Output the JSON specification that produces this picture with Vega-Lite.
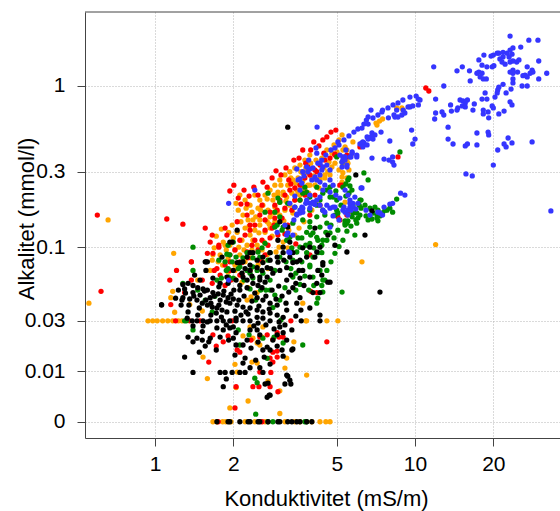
{
"$schema": "https://vega.github.io/schema/vega-lite/v6.json",
"width": 475, "height": 426,
"autosize": {"type": "none"},
"padding": {"left": 85, "top": 12, "right": 0, "bottom": 73},
"background": "white",
"config": {"view": {"stroke": null}, "font": "Liberation Sans"},
"layer": [
{
"data": {"values": [
{"kond":0.66,"alk":0.150,"g":"orange"},{"kond":0.557,"alk":0.041,"g":"orange"},{"kond":0.94,"alk":0.03,"g":"orange"},{"kond":1.18,"alk":0.091,"g":"orange"},{"kond":1.17,"alk":0.050,"g":"orange"},{"kond":1.15,"alk":0.045,"g":"orange"},{"kond":1.19,"alk":0.035,"g":"orange"},{"kond":1.36,"alk":0.040,"g":"orange"},{"kond":1.46,"alk":0.060,"g":"orange"},{"kond":12.0,"alk":0.104,"g":"orange"},{"kond":6.25,"alk":0.080,"g":"orange"},{"kond":3.83,"alk":0.03,"g":"orange"},{"kond":4.58,"alk":0.03,"g":"orange"},{"kond":5.05,"alk":0.03,"g":"orange"},{"kond":8.5,"alk":0.735,"g":"orange"},{"kond":8.9,"alk":0.735,"g":"orange"},{"kond":9.0,"alk":0.714,"g":"orange"},{"kond":7.5,"alk":0.63,"g":"orange"},{"kond":7.3,"alk":0.612,"g":"orange"},{"kond":7.08,"alk":0.595,"g":"orange"},{"kond":7.14,"alk":0.579,"g":"orange"},{"kond":5.77,"alk":0.457,"g":"orange"},{"kond":5.38,"alk":0.426,"g":"orange"},{"kond":5.28,"alk":0.408,"g":"orange"},{"kond":5.47,"alk":0.354,"g":"orange"},{"kond":5.52,"alk":0.339,"g":"orange"},{"kond":5.57,"alk":0.308,"g":"orange"},{"kond":5.28,"alk":0.296,"g":"orange"},{"kond":5.47,"alk":0.275,"g":"orange"},{"kond":5.24,"alk":0.259,"g":"orange"},{"kond":5.38,"alk":0.194,"g":"orange"},{"kond":5.47,"alk":0.408,"g":"orange"},{"kond":5.67,"alk":0.380,"g":"orange"},{"kond":5.28,"alk":0.339,"g":"orange"},{"kond":5.1,"alk":0.308,"g":"orange"},{"kond":5.24,"alk":0.279,"g":"orange"},{"kond":4.92,"alk":0.339,"g":"orange"},{"kond":4.79,"alk":0.321,"g":"orange"},{"kond":4.62,"alk":0.300,"g":"orange"},{"kond":4.50,"alk":0.287,"g":"orange"},{"kond":4.31,"alk":0.275,"g":"orange"},{"kond":4.19,"alk":0.267,"g":"orange"},{"kond":4.01,"alk":0.279,"g":"orange"},{"kond":3.83,"alk":0.296,"g":"orange"},{"kond":3.70,"alk":0.296,"g":"orange"},{"kond":3.87,"alk":0.248,"g":"orange"},{"kond":3.70,"alk":0.241,"g":"orange"},{"kond":3.51,"alk":0.231,"g":"orange"},{"kond":3.36,"alk":0.221,"g":"orange"},{"kond":3.21,"alk":0.209,"g":"orange"},{"kond":3.11,"alk":0.215,"g":"orange"},{"kond":3.02,"alk":0.194,"g":"orange"},{"kond":2.89,"alk":0.181,"g":"orange"},{"kond":2.84,"alk":0.166,"g":"orange"},{"kond":2.77,"alk":0.157,"g":"orange"},{"kond":2.70,"alk":0.146,"g":"orange"},{"kond":2.53,"alk":0.150,"g":"orange"},{"kond":2.38,"alk":0.150,"g":"orange"},{"kond":3.11,"alk":0.224,"g":"orange"},{"kond":2.97,"alk":0.224,"g":"orange"},
{"kond":2.12,"alk":0.215,"g":"orange"},{"kond":2.22,"alk":0.200,"g":"orange"},{"kond":2.32,"alk":0.186,"g":"orange"},{"kond":2.42,"alk":0.215,"g":"orange"},{"kond":2.53,"alk":0.200,"g":"orange"},{"kond":2.65,"alk":0.215,"g":"orange"},{"kond":2.77,"alk":0.231,"g":"orange"},{"kond":2.89,"alk":0.248,"g":"orange"},{"kond":3.02,"alk":0.267,"g":"orange"},{"kond":3.16,"alk":0.287,"g":"orange"},{"kond":3.30,"alk":0.300,"g":"orange"},{"kond":3.45,"alk":0.317,"g":"orange"},{"kond":3.61,"alk":0.330,"g":"orange"},{"kond":3.77,"alk":0.354,"g":"orange"},{"kond":3.94,"alk":0.380,"g":"orange"},{"kond":2.09,"alk":0.173,"g":"orange"},{"kond":2.18,"alk":0.161,"g":"orange"},{"kond":2.28,"alk":0.150,"g":"orange"},{"kond":2.36,"alk":0.168,"g":"orange"},{"kond":2.49,"alk":0.178,"g":"orange"},{"kond":2.60,"alk":0.186,"g":"orange"},{"kond":2.72,"alk":0.173,"g":"orange"},{"kond":2.84,"alk":0.200,"g":"orange"},{"kond":2.97,"alk":0.215,"g":"orange"},{"kond":3.24,"alk":0.248,"g":"orange"},{"kond":3.39,"alk":0.267,"g":"orange"},{"kond":3.55,"alk":0.275,"g":"orange"},{"kond":2.22,"alk":0.133,"g":"orange"},{"kond":2.32,"alk":0.120,"g":"orange"},{"kond":2.42,"alk":0.129,"g":"orange"},{"kond":2.53,"alk":0.139,"g":"orange"},{"kond":2.65,"alk":0.125,"g":"orange"},{"kond":2.77,"alk":0.133,"g":"orange"},{"kond":2.89,"alk":0.146,"g":"orange"},{"kond":3.02,"alk":0.161,"g":"orange"},{"kond":3.16,"alk":0.173,"g":"orange"},{"kond":3.30,"alk":0.186,"g":"orange"},{"kond":3.45,"alk":0.200,"g":"orange"},{"kond":3.61,"alk":0.215,"g":"orange"},{"kond":3.77,"alk":0.231,"g":"orange"},{"kond":3.94,"alk":0.248,"g":"orange"},{"kond":4.12,"alk":0.248,"g":"orange"},{"kond":4.31,"alk":0.267,"g":"orange"},{"kond":4.50,"alk":0.275,"g":"orange"},{"kond":4.71,"alk":0.287,"g":"orange"},{"kond":1.98,"alk":0.139,"g":"orange"},{"kond":2.07,"alk":0.125,"g":"orange"},{"kond":2.16,"alk":0.111,"g":"orange"},{"kond":2.26,"alk":0.103,"g":"orange"},{"kond":2.36,"alk":0.096,"g":"orange"},{"kond":2.47,"alk":0.103,"g":"orange"},{"kond":2.58,"alk":0.096,"g":"orange"},{"kond":2.70,"alk":0.089,"g":"orange"},{"kond":1.94,"alk":0.103,"g":"orange"},{"kond":2.03,"alk":0.096,"g":"orange"},{"kond":2.12,"alk":0.089,"g":"orange"},{"kond":2.22,"alk":0.080,"g":"orange"},{"kond":1.86,"alk":0.103,"g":"orange"},{"kond":1.91,"alk":0.084,"g":"orange"},{"kond":2.03,"alk":0.076,"g":"orange"},{"kond":1.78,"alk":0.089,"g":"orange"},{"kond":1.82,"alk":0.076,"g":"orange"},{"kond":1.91,"alk":0.068,"g":"orange"},{"kond":2.03,"alk":0.061,"g":"orange"},{"kond":2.16,"alk":0.058,"g":"orange"},{"kond":2.28,"alk":0.053,"g":"orange"},
{"kond":2.05,"alk":0.191,"g":"orange"},{"kond":2.14,"alk":0.146,"g":"orange"},{"kond":2.24,"alk":0.178,"g":"orange"},{"kond":2.30,"alk":0.137,"g":"orange"},{"kond":2.38,"alk":0.111,"g":"orange"},{"kond":2.44,"alk":0.157,"g":"orange"},{"kond":2.51,"alk":0.124,"g":"orange"},{"kond":2.55,"alk":0.173,"g":"orange"},{"kond":2.63,"alk":0.108,"g":"orange"},{"kond":2.70,"alk":0.203,"g":"orange"},{"kond":2.75,"alk":0.141,"g":"orange"},{"kond":2.82,"alk":0.118,"g":"orange"},{"kond":2.87,"alk":0.215,"g":"orange"},{"kond":2.95,"alk":0.168,"g":"orange"},{"kond":3.0,"alk":0.100,"g":"orange"},{"kond":3.05,"alk":0.248,"g":"orange"},{"kond":3.13,"alk":0.148,"g":"orange"},{"kond":3.19,"alk":0.197,"g":"orange"},{"kond":3.27,"alk":0.129,"g":"orange"},{"kond":3.33,"alk":0.275,"g":"orange"},{"kond":3.39,"alk":0.166,"g":"orange"},{"kond":3.48,"alk":0.255,"g":"orange"},{"kond":3.55,"alk":0.221,"g":"orange"},{"kond":3.64,"alk":0.300,"g":"orange"},{"kond":3.70,"alk":0.263,"g":"orange"},{"kond":3.80,"alk":0.317,"g":"orange"},{"kond":3.90,"alk":0.221,"g":"orange"},{"kond":3.97,"alk":0.339,"g":"orange"},{"kond":4.08,"alk":0.283,"g":"orange"},{"kond":4.16,"alk":0.354,"g":"orange"},{"kond":4.27,"alk":0.238,"g":"orange"},{"kond":4.38,"alk":0.364,"g":"orange"},{"kond":4.46,"alk":0.317,"g":"orange"},{"kond":4.58,"alk":0.408,"g":"orange"},{"kond":4.67,"alk":0.344,"g":"orange"},{"kond":4.79,"alk":0.39,"g":"orange"},{"kond":4.88,"alk":0.438,"g":"orange"},{"kond":5.01,"alk":0.397,"g":"orange"},{"kond":5.10,"alk":0.470,"g":"orange"},{"kond":5.24,"alk":0.504,"g":"orange"},{"kond":2.20,"alk":0.096,"g":"orange"},{"kond":2.34,"alk":0.085,"g":"orange"},{"kond":2.10,"alk":0.100,"g":"orange"},{"kond":2.0,"alk":0.115,"g":"orange"},{"kond":1.92,"alk":0.125,"g":"orange"},{"kond":1.88,"alk":0.096,"g":"orange"},{"kond":1.83,"alk":0.108,"g":"orange"},{"kond":1.75,"alk":0.080,"g":"orange"},{"kond":1.69,"alk":0.099,"g":"orange"},{"kond":1.72,"alk":0.118,"g":"orange"},{"kond":1.80,"alk":0.131,"g":"orange"},{"kond":2.49,"alk":0.076,"g":"orange"},{"kond":2.60,"alk":0.080,"g":"orange"},{"kond":2.72,"alk":0.072,"g":"orange"},{"kond":2.92,"alk":0.093,"g":"orange"},{"kond":3.11,"alk":0.108,"g":"orange"},{"kond":3.24,"alk":0.099,"g":"orange"},{"kond":3.45,"alk":0.120,"g":"orange"},{"kond":3.58,"alk":0.133,"g":"orange"},{"kond":3.74,"alk":0.146,"g":"orange"},{"kond":4.01,"alk":0.173,"g":"orange"},{"kond":4.16,"alk":0.191,"g":"orange"},
{"kond":0.98,"alk":0.03,"g":"orange"},{"kond":1.02,"alk":0.03,"g":"orange"},{"kond":1.07,"alk":0.03,"g":"orange"},{"kond":1.12,"alk":0.03,"g":"orange"},{"kond":1.17,"alk":0.03,"g":"orange"},{"kond":1.23,"alk":0.03,"g":"orange"},{"kond":1.27,"alk":0.03,"g":"orange"},{"kond":3.8,"alk":0.03,"g":"orange"},
{"kond":1.53,"alk":0.0143,"g":"orange"},{"kond":1.59,"alk":0.0081,"g":"orange"},{"kond":1.94,"alk":0.0021,"g":"orange"},{"kond":2.03,"alk":0.012,"g":"orange"},{"kond":2.07,"alk":0.0098,"g":"orange"},{"kond":2.05,"alk":0.006,"g":"orange"},{"kond":2.28,"alk":0.0033,"g":"orange"},{"kond":2.36,"alk":0.0127,"g":"orange"},{"kond":2.47,"alk":0.0124,"g":"orange"},{"kond":2.53,"alk":0.0187,"g":"orange"},{"kond":2.47,"alk":0.0195,"g":"orange"},{"kond":2.38,"alk":0.0215,"g":"orange"},{"kond":2.58,"alk":0.022,"g":"orange"},{"kond":2.72,"alk":0.0075,"g":"orange"},{"kond":3.02,"alk":0.0053,"g":"orange"},{"kond":3.02,"alk":0.0012,"g":"orange"},{"kond":3.16,"alk":0.0109,"g":"orange"},{"kond":3.83,"alk":0.009,"g":"orange"},{"kond":3.42,"alk":0.020,"g":"orange"},{"kond":3.21,"alk":0.014,"g":"orange"},{"kond":2.18,"alk":0.0225,"g":"orange"},{"kond":2.32,"alk":0.0268,"g":"orange"},{"kond":2.60,"alk":0.0268,"g":"orange"},{"kond":1.52,"alk":0.0358,"g":"orange"},{"kond":1.63,"alk":0.070,"g":"orange"},{"kond":1.66,"alk":0.082,"g":"orange"},{"kond":1.67,"alk":0.089,"g":"orange"},{"kond":2.03,"alk":0.070,"g":"orange"},{"kond":2.34,"alk":0.0455,"g":"orange"},{"kond":2.47,"alk":0.049,"g":"orange"},{"kond":2.26,"alk":0.0432,"g":"orange"},{"kond":3.70,"alk":0.041,"g":"orange"},
{"kond":1.67,"alk":0,"g":"orange"},{"kond":1.73,"alk":0,"g":"orange"},{"kond":1.82,"alk":0,"g":"orange"},{"kond":1.87,"alk":0,"g":"orange"},{"kond":1.96,"alk":0,"g":"orange"},{"kond":2.22,"alk":0,"g":"orange"},{"kond":2.42,"alk":0,"g":"orange"},{"kond":2.65,"alk":0,"g":"orange"},{"kond":3.16,"alk":0,"g":"orange"},{"kond":3.45,"alk":0,"g":"orange"},{"kond":3.61,"alk":0,"g":"orange"},{"kond":4.01,"alk":0,"g":"orange"},{"kond":4.31,"alk":0,"g":"orange"},{"kond":4.54,"alk":0,"g":"orange"},{"kond":4.71,"alk":0,"g":"orange"},
{"kond":0.60,"alk":0.161,"g":"red"},{"kond":0.62,"alk":0.050,"g":"red"},{"kond":1.11,"alk":0.152,"g":"red"},{"kond":1.28,"alk":0.141,"g":"red"},{"kond":1.38,"alk":0.080,"g":"red"},{"kond":1.21,"alk":0.070,"g":"red"},{"kond":1.14,"alk":0.060,"g":"red"},{"kond":1.38,"alk":0.060,"g":"red"},{"kond":1.15,"alk":0.040,"g":"red"},{"kond":1.30,"alk":0.049,"g":"red"},{"kond":11.0,"alk":0.97,"g":"red"},{"kond":11.3,"alk":0.93,"g":"red"},{"kond":6.14,"alk":0.426,"g":"red"},{"kond":8.6,"alk":0.37,"g":"red"},{"kond":5.47,"alk":0.38,"g":"red"},{"kond":5.42,"alk":0.37,"g":"red"},{"kond":5.24,"alk":0.248,"g":"red"},{"kond":5.47,"alk":0.161,"g":"red"},{"kond":5.14,"alk":0.150,"g":"red"},{"kond":1.94,"alk":0.228,"g":"red"},{"kond":2.14,"alk":0.189,"g":"red"},{"kond":2.26,"alk":0.189,"g":"red"},{"kond":4.46,"alk":0.39,"g":"red"},{"kond":4.92,"alk":0.385,"g":"red"},{"kond":3.33,"alk":0.252,"g":"red"},{"kond":5.05,"alk":0.157,"g":"red"},{"kond":5.52,"alk":0.164,"g":"red"},{"kond":4.19,"alk":0.300,"g":"red"},{"kond":3.87,"alk":0.321,"g":"red"},{"kond":5.14,"alk":0.248,"g":"red"},{"kond":2.95,"alk":0.173,"g":"red"},{"kond":2.32,"alk":0.139,"g":"red"},{"kond":1.89,"alk":0.120,"g":"red"},{"kond":1.63,"alk":0.108,"g":"red"},{"kond":1.76,"alk":0.100,"g":"red"},{"kond":1.38,"alk":0.080,"g":"red"},{"kond":1.59,"alk":0.091,"g":"red"},{"kond":1.67,"alk":0.091,"g":"red"},
{"kond":2.53,"alk":0.161,"g":"red"},{"kond":2.65,"alk":0.150,"g":"red"},{"kond":2.77,"alk":0.168,"g":"red"},{"kond":2.89,"alk":0.186,"g":"red"},{"kond":3.02,"alk":0.200,"g":"red"},{"kond":3.16,"alk":0.215,"g":"red"},{"kond":3.30,"alk":0.231,"g":"red"},{"kond":3.45,"alk":0.238,"g":"red"},{"kond":3.61,"alk":0.248,"g":"red"},{"kond":3.77,"alk":0.275,"g":"red"},{"kond":3.94,"alk":0.287,"g":"red"},{"kond":4.12,"alk":0.308,"g":"red"},{"kond":4.31,"alk":0.330,"g":"red"},{"kond":4.50,"alk":0.354,"g":"red"},{"kond":4.71,"alk":0.364,"g":"red"},{"kond":4.92,"alk":0.380,"g":"red"},{"kond":2.42,"alk":0.139,"g":"red"},{"kond":2.32,"alk":0.129,"g":"red"},{"kond":2.22,"alk":0.120,"g":"red"},{"kond":2.12,"alk":0.111,"g":"red"},{"kond":2.58,"alk":0.111,"g":"red"},{"kond":2.82,"alk":0.133,"g":"red"},{"kond":3.08,"alk":0.154,"g":"red"},{"kond":3.36,"alk":0.173,"g":"red"},{"kond":3.61,"alk":0.200,"g":"red"},{"kond":3.24,"alk":0.139,"g":"red"},{"kond":2.97,"alk":0.120,"g":"red"},{"kond":2.72,"alk":0.103,"g":"red"},{"kond":2.49,"alk":0.096,"g":"red"},{"kond":2.28,"alk":0.085,"g":"red"},{"kond":2.12,"alk":0.080,"g":"red"},{"kond":2.03,"alk":0.096,"g":"red"},{"kond":1.94,"alk":0.089,"g":"red"},{"kond":3.94,"alk":0.161,"g":"red"},{"kond":4.31,"alk":0.186,"g":"red"},{"kond":4.12,"alk":0.215,"g":"red"},{"kond":3.77,"alk":0.215,"g":"red"},{"kond":3.45,"alk":0.200,"g":"red"},{"kond":3.16,"alk":0.178,"g":"red"},{"kond":2.89,"alk":0.154,"g":"red"},{"kond":2.65,"alk":0.129,"g":"red"},{"kond":2.42,"alk":0.111,"g":"red"},{"kond":2.77,"alk":0.115,"g":"red"},{"kond":2.53,"alk":0.082,"g":"red"},{"kond":2.32,"alk":0.070,"g":"red"},{"kond":2.12,"alk":0.065,"g":"red"},{"kond":1.94,"alk":0.070,"g":"red"},{"kond":1.86,"alk":0.076,"g":"red"},{"kond":1.78,"alk":0.065,"g":"red"},
{"kond":2.01,"alk":0.248,"g":"red"},{"kond":2.09,"alk":0.206,"g":"red"},{"kond":2.20,"alk":0.231,"g":"red"},{"kond":2.30,"alk":0.212,"g":"red"},{"kond":2.40,"alk":0.241,"g":"red"},{"kond":2.49,"alk":0.215,"g":"red"},{"kond":2.60,"alk":0.259,"g":"red"},{"kond":2.70,"alk":0.241,"g":"red"},{"kond":2.82,"alk":0.275,"g":"red"},{"kond":2.92,"alk":0.304,"g":"red"},{"kond":3.05,"alk":0.287,"g":"red"},{"kond":3.19,"alk":0.317,"g":"red"},{"kond":3.27,"alk":0.267,"g":"red"},{"kond":3.42,"alk":0.354,"g":"red"},{"kond":3.58,"alk":0.364,"g":"red"},{"kond":3.70,"alk":0.408,"g":"red"},{"kond":3.80,"alk":0.339,"g":"red"},{"kond":3.97,"alk":0.408,"g":"red"},{"kond":4.08,"alk":0.457,"g":"red"},{"kond":4.27,"alk":0.432,"g":"red"},{"kond":4.42,"alk":0.470,"g":"red"},{"kond":4.58,"alk":0.490,"g":"red"},{"kond":4.75,"alk":0.525,"g":"red"},{"kond":4.96,"alk":0.540,"g":"red"},{"kond":2.58,"alk":0.186,"g":"red"},{"kond":2.87,"alk":0.139,"g":"red"},{"kond":3.16,"alk":0.122,"g":"red"},{"kond":3.48,"alk":0.105,"g":"red"},{"kond":2.26,"alk":0.161,"g":"red"},{"kond":2.07,"alk":0.146,"g":"red"},{"kond":1.86,"alk":0.133,"g":"red"},{"kond":1.76,"alk":0.103,"g":"red"},{"kond":1.66,"alk":0.120,"g":"red"},{"kond":1.56,"alk":0.133,"g":"red"},{"kond":2.36,"alk":0.103,"g":"red"},{"kond":2.65,"alk":0.089,"g":"red"},{"kond":2.16,"alk":0.066,"g":"red"},{"kond":1.96,"alk":0.060,"g":"red"},{"kond":1.86,"alk":0.055,"g":"red"},{"kond":1.69,"alk":0.070,"g":"red"},
{"kond":1.52,"alk":0.060,"g":"red"},{"kond":1.66,"alk":0.057,"g":"red"},{"kond":1.73,"alk":0.072,"g":"red"},{"kond":1.94,"alk":0.080,"g":"red"},{"kond":2.16,"alk":0.079,"g":"red"},{"kond":2.26,"alk":0.093,"g":"red"},{"kond":3.94,"alk":0.089,"g":"red"},{"kond":3.97,"alk":0.050,"g":"red"},{"kond":4.19,"alk":0.049,"g":"red"},{"kond":3.33,"alk":0.030,"g":"red"},{"kond":4.58,"alk":0.020,"g":"red"},{"kond":2.95,"alk":0.024,"g":"red"},{"kond":3.11,"alk":0.022,"g":"red"},{"kond":2.84,"alk":0.021,"g":"red"},{"kond":2.07,"alk":0.0168,"g":"red"},{"kond":1.72,"alk":0.0183,"g":"red"},{"kond":1.83,"alk":0.020,"g":"red"},{"kond":1.61,"alk":0.0127,"g":"red"},{"kond":2.05,"alk":0.0062,"g":"red"},{"kond":2.38,"alk":0.0062,"g":"red"},{"kond":2.03,"alk":0.0021,"g":"red"},{"kond":2.53,"alk":0.0098,"g":"red"},{"kond":2.77,"alk":0.014,"g":"red"},{"kond":2.84,"alk":0.016,"g":"red"},{"kond":2.95,"alk":0.0143,"g":"red"},{"kond":1.20,"alk":0.03,"g":"red"},{"kond":1.36,"alk":0.03,"g":"red"},{"kond":1.49,"alk":0.03,"g":"red"},{"kond":1.98,"alk":0.03,"g":"red"},{"kond":1.75,"alk":0,"g":"red"},{"kond":2.58,"alk":0,"g":"red"},
{"kond":1.67,"alk":0.023,"g":"red"},{"kond":1.91,"alk":0.0225,"g":"red"},{"kond":2.12,"alk":0.016,"g":"red"},{"kond":2.34,"alk":0.0207,"g":"red"},{"kond":2.53,"alk":0.022,"g":"red"},{"kond":2.70,"alk":0.023,"g":"red"},{"kond":3.00,"alk":0.022,"g":"red"},{"kond":2.95,"alk":0.0164,"g":"red"},{"kond":2.79,"alk":0.0097,"g":"red"},{"kond":2.51,"alk":0.0062,"g":"red"},{"kond":2.77,"alk":0.0062,"g":"red"},{"kond":2.97,"alk":0.0051,"g":"red"},{"kond":2.84,"alk":0.0127,"g":"red"},
{"kond":1.40,"alk":0.100,"g":"green"},{"kond":1.40,"alk":0.070,"g":"green"},{"kond":1.28,"alk":0.057,"g":"green"},{"kond":1.40,"alk":0.0253,"g":"green"},{"kond":1.32,"alk":0.03,"g":"green"},{"kond":2.72,"alk":0.221,"g":"green"},{"kond":8.75,"alk":0.397,"g":"green"},{"kond":6.36,"alk":0.295,"g":"green"},{"kond":6.6,"alk":0.267,"g":"green"},{"kond":5.57,"alk":0.275,"g":"green"},{"kond":5.42,"alk":0.252,"g":"green"},{"kond":5.57,"alk":0.221,"g":"green"},{"kond":6.2,"alk":0.200,"g":"green"},{"kond":6.42,"alk":0.186,"g":"green"},{"kond":6.71,"alk":0.178,"g":"green"},{"kond":6.89,"alk":0.166,"g":"green"},{"kond":7.14,"alk":0.161,"g":"green"},{"kond":7.33,"alk":0.159,"g":"green"},{"kond":7.5,"alk":0.166,"g":"green"},{"kond":7.8,"alk":0.173,"g":"green"},{"kond":8.0,"alk":0.178,"g":"green"},{"kond":8.2,"alk":0.168,"g":"green"},{"kond":8.5,"alk":0.203,"g":"green"},{"kond":6.6,"alk":0.150,"g":"green"},{"kond":6.83,"alk":0.152,"g":"green"},{"kond":7.14,"alk":0.154,"g":"green"},{"kond":7.2,"alk":0.148,"g":"green"},{"kond":5.97,"alk":0.166,"g":"green"},{"kond":6.03,"alk":0.154,"g":"green"},{"kond":5.97,"alk":0.143,"g":"green"},{"kond":5.73,"alk":0.157,"g":"green"},{"kond":5.38,"alk":0.148,"g":"green"},{"kond":5.47,"alk":0.143,"g":"green"},{"kond":7.01,"alk":0.181,"g":"green"},{"kond":7.2,"alk":0.173,"g":"green"},
{"kond":5.72,"alk":0.231,"g":"green"},{"kond":6.14,"alk":0.200,"g":"green"},{"kond":6.1,"alk":0.186,"g":"green"},{"kond":5.77,"alk":0.166,"g":"green"},{"kond":5.52,"alk":0.148,"g":"green"},{"kond":5.38,"alk":0.139,"g":"green"},{"kond":6.14,"alk":0.161,"g":"green"},{"kond":6.48,"alk":0.159,"g":"green"},{"kond":2.97,"alk":0.206,"g":"green"},{"kond":3.02,"alk":0.194,"g":"green"},{"kond":3.24,"alk":0.191,"g":"green"},{"kond":3.45,"alk":0.181,"g":"green"},{"kond":3.61,"alk":0.200,"g":"green"},{"kond":3.70,"alk":0.221,"g":"green"},{"kond":3.77,"alk":0.241,"g":"green"},{"kond":3.94,"alk":0.209,"g":"green"},{"kond":4.05,"alk":0.191,"g":"green"},{"kond":4.31,"alk":0.200,"g":"green"},{"kond":4.58,"alk":0.231,"g":"green"},{"kond":4.71,"alk":0.241,"g":"green"},{"kond":4.84,"alk":0.209,"g":"green"},{"kond":5.0,"alk":0.200,"g":"green"},{"kond":4.42,"alk":0.173,"g":"green"},{"kond":4.19,"alk":0.157,"g":"green"},{"kond":3.94,"alk":0.146,"g":"green"},{"kond":4.31,"alk":0.135,"g":"green"},{"kond":4.58,"alk":0.143,"g":"green"},
{"kond":2.65,"alk":0.168,"g":"green"},{"kond":2.89,"alk":0.168,"g":"green"},{"kond":3.02,"alk":0.157,"g":"green"},{"kond":2.89,"alk":0.135,"g":"green"},{"kond":3.30,"alk":0.116,"g":"green"},{"kond":3.55,"alk":0.115,"g":"green"},{"kond":3.94,"alk":0.135,"g":"green"},{"kond":4.05,"alk":0.124,"g":"green"},{"kond":4.23,"alk":0.111,"g":"green"},{"kond":4.58,"alk":0.111,"g":"green"},{"kond":3.61,"alk":0.100,"g":"green"},{"kond":3.83,"alk":0.092,"g":"green"},{"kond":3.39,"alk":0.082,"g":"green"},{"kond":3.02,"alk":0.086,"g":"green"},{"kond":2.77,"alk":0.092,"g":"green"},{"kond":2.65,"alk":0.106,"g":"green"},{"kond":3.94,"alk":0.076,"g":"green"},{"kond":4.31,"alk":0.070,"g":"green"},{"kond":4.50,"alk":0.060,"g":"green"},{"kond":4.38,"alk":0.055,"g":"green"},{"kond":4.05,"alk":0.063,"g":"green"},{"kond":3.39,"alk":0.063,"g":"green"},{"kond":3.16,"alk":0.053,"g":"green"},{"kond":3.02,"alk":0.0432,"g":"green"},{"kond":2.84,"alk":0.038,"g":"green"},{"kond":2.67,"alk":0.051,"g":"green"},{"kond":5.24,"alk":0.0494,"g":"green"},{"kond":5.87,"alk":0.120,"g":"green"},{"kond":5.05,"alk":0.166,"g":"green"},{"kond":7.66,"alk":0.173,"g":"green"},{"kond":5.0,"alk":0.173,"g":"green"},{"kond":5.77,"alk":0.186,"g":"green"},
{"kond":2.0,"alk":0.108,"g":"green"},{"kond":1.91,"alk":0.103,"g":"green"},{"kond":1.89,"alk":0.090,"g":"green"},{"kond":1.80,"alk":0.062,"g":"green"},{"kond":1.73,"alk":0.060,"g":"green"},{"kond":2.0,"alk":0.062,"g":"green"},{"kond":2.12,"alk":0.074,"g":"green"},{"kond":2.26,"alk":0.070,"g":"green"},{"kond":2.32,"alk":0.067,"g":"green"},{"kond":2.38,"alk":0.062,"g":"green"},{"kond":2.47,"alk":0.070,"g":"green"},{"kond":2.60,"alk":0.067,"g":"green"},{"kond":2.77,"alk":0.060,"g":"green"},{"kond":2.89,"alk":0.070,"g":"green"},{"kond":2.05,"alk":0.086,"g":"green"},{"kond":2.18,"alk":0.085,"g":"green"},{"kond":1.86,"alk":0.080,"g":"green"},{"kond":1.70,"alk":0.046,"g":"green"},{"kond":1.30,"alk":0.03,"g":"green"},{"kond":1.92,"alk":0.063,"g":"green"},{"kond":2.12,"alk":0.0187,"g":"green"},{"kond":3.11,"alk":0.0195,"g":"green"},{"kond":3.70,"alk":0.0187,"g":"green"},{"kond":4.19,"alk":0.041,"g":"green"},{"kond":3.94,"alk":0.074,"g":"green"},{"kond":4.42,"alk":0.060,"g":"green"},{"kond":4.05,"alk":0.086,"g":"green"},{"kond":4.38,"alk":0.092,"g":"green"},{"kond":2.42,"alk":0.0082,"g":"green"},{"kond":2.47,"alk":0.0071,"g":"green"},{"kond":2.44,"alk":0.0011,"g":"green"},{"kond":2.70,"alk":0.0139,"g":"green"},{"kond":2.87,"alk":0.022,"g":"green"},{"kond":2.72,"alk":0,"g":"green"},{"kond":3.77,"alk":0,"g":"green"},{"kond":2.84,"alk":0,"g":"green"},{"kond":3.83,"alk":0,"g":"green"},
{"kond":2.95,"alk":0.139,"g":"green"},{"kond":3.11,"alk":0.135,"g":"green"},{"kond":3.39,"alk":0.143,"g":"green"},{"kond":3.70,"alk":0.150,"g":"green"},{"kond":3.83,"alk":0.125,"g":"green"},{"kond":4.19,"alk":0.116,"g":"green"},{"kond":4.42,"alk":0.111,"g":"green"},{"kond":4.71,"alk":0.124,"g":"green"},{"kond":3.94,"alk":0.106,"g":"green"},{"kond":3.30,"alk":0.093,"g":"green"},{"kond":2.72,"alk":0.082,"g":"green"},{"kond":2.53,"alk":0.086,"g":"green"},{"kond":2.38,"alk":0.074,"g":"green"},{"kond":2.12,"alk":0.079,"g":"green"},{"kond":1.94,"alk":0.089,"g":"green"},{"kond":1.91,"alk":0.072,"g":"green"},{"kond":5.0,"alk":0.37,"g":"green"},{"kond":5.24,"alk":0.344,"g":"green"},{"kond":5.52,"alk":0.267,"g":"green"},{"kond":5.28,"alk":0.241,"g":"green"},{"kond":4.71,"alk":0.209,"g":"green"},{"kond":4.42,"alk":0.221,"g":"green"},{"kond":4.19,"alk":0.241,"g":"green"},{"kond":3.83,"alk":0.224,"g":"green"},{"kond":3.94,"alk":0.173,"g":"green"},{"kond":4.92,"alk":0.161,"g":"green"},{"kond":5.38,"alk":0.143,"g":"green"},
{"kond":3.08,"alk":0.129,"g":"green"},{"kond":3.21,"alk":0.111,"g":"green"},{"kond":3.36,"alk":0.099,"g":"green"},{"kond":3.51,"alk":0.093,"g":"green"},{"kond":3.67,"alk":0.115,"g":"green"},{"kond":3.80,"alk":0.103,"g":"green"},{"kond":3.97,"alk":0.120,"g":"green"},{"kond":4.08,"alk":0.099,"g":"green"},{"kond":4.23,"alk":0.092,"g":"green"},{"kond":4.38,"alk":0.103,"g":"green"},{"kond":4.54,"alk":0.125,"g":"green"},{"kond":4.75,"alk":0.139,"g":"green"},{"kond":4.88,"alk":0.115,"g":"green"},{"kond":5.05,"alk":0.129,"g":"green"},{"kond":5.28,"alk":0.111,"g":"green"},{"kond":5.47,"alk":0.127,"g":"green"},{"kond":5.67,"alk":0.137,"g":"green"},{"kond":5.92,"alk":0.150,"g":"green"},{"kond":6.2,"alk":0.178,"g":"green"},{"kond":3.19,"alk":0.080,"g":"green"},{"kond":3.33,"alk":0.072,"g":"green"},{"kond":3.48,"alk":0.067,"g":"green"},{"kond":3.61,"alk":0.056,"g":"green"},{"kond":3.77,"alk":0.064,"g":"green"},{"kond":3.90,"alk":0.051,"g":"green"},{"kond":4.08,"alk":0.055,"g":"green"},{"kond":4.23,"alk":0.0446,"g":"green"},{"kond":4.42,"alk":0.0494,"g":"green"},{"kond":4.58,"alk":0.070,"g":"green"},{"kond":4.75,"alk":0.080,"g":"green"},{"kond":4.92,"alk":0.091,"g":"green"},{"kond":5.10,"alk":0.101,"g":"green"},{"kond":2.77,"alk":0.051,"g":"green"},{"kond":2.89,"alk":0.047,"g":"green"},{"kond":2.55,"alk":0.051,"g":"green"},{"kond":2.44,"alk":0.0432,"g":"green"},{"kond":2.32,"alk":0.052,"g":"green"},{"kond":2.20,"alk":0.060,"g":"green"},{"kond":2.09,"alk":0.072,"g":"green"},{"kond":1.98,"alk":0.080,"g":"green"},{"kond":1.88,"alk":0.070,"g":"green"},{"kond":1.76,"alk":0.082,"g":"green"},{"kond":2.26,"alk":0.092,"g":"green"},{"kond":2.38,"alk":0.085,"g":"green"},{"kond":2.49,"alk":0.093,"g":"green"},{"kond":2.58,"alk":0.099,"g":"green"},{"kond":3.67,"alk":0.080,"g":"green"},{"kond":3.48,"alk":0.051,"g":"green"},{"kond":4.19,"alk":0.186,"g":"green"},{"kond":4.50,"alk":0.161,"g":"green"},{"kond":5.19,"alk":0.186,"g":"green"},{"kond":5.42,"alk":0.212,"g":"green"},{"kond":5.62,"alk":0.245,"g":"green"},{"kond":4.96,"alk":0.228,"g":"green"},{"kond":3.05,"alk":0.0304,"g":"green"},{"kond":2.60,"alk":0.0215,"g":"green"},{"kond":2.30,"alk":0.023,"g":"green"},{"kond":2.09,"alk":0.0253,"g":"green"},{"kond":1.66,"alk":0.0352,"g":"green"},{"kond":1.56,"alk":0.0432,"g":"green"},{"kond":1.46,"alk":0.051,"g":"green"},
{"kond":3.24,"alk":0.562,"g":"black"},{"kond":5.92,"alk":0.287,"g":"black"},{"kond":6.83,"alk":0.171,"g":"black"},{"kond":6.42,"alk":0.120,"g":"black"},{"kond":5.47,"alk":0.093,"g":"black"},{"kond":7.33,"alk":0.0494,"g":"black"},{"kond":4.92,"alk":0.103,"g":"black"},{"kond":4.62,"alk":0.120,"g":"black"},{"kond":4.71,"alk":0.058,"g":"black"},{"kond":4.31,"alk":0.0333,"g":"black"},{"kond":3.94,"alk":0.0377,"g":"black"},{"kond":4.38,"alk":0.065,"g":"black"},{"kond":4.23,"alk":0.070,"g":"black"},{"kond":3.94,"alk":0.063,"g":"black"},{"kond":3.61,"alk":0.062,"g":"black"},{"kond":3.70,"alk":0.070,"g":"black"},{"kond":4.42,"alk":0.079,"g":"black"},{"kond":4.19,"alk":0.093,"g":"black"},{"kond":4.31,"alk":0.100,"g":"black"},{"kond":3.94,"alk":0.100,"g":"black"},{"kond":3.70,"alk":0.099,"g":"black"},{"kond":4.12,"alk":0.133,"g":"black"},{"kond":3.02,"alk":0.146,"g":"black"},{"kond":3.30,"alk":0.108,"g":"black"},{"kond":3.39,"alk":0.092,"g":"black"},{"kond":3.51,"alk":0.080,"g":"black"},
{"kond":1.28,"alk":0.056,"g":"black"},{"kond":1.34,"alk":0.057,"g":"black"},{"kond":1.40,"alk":0.055,"g":"black"},{"kond":1.46,"alk":0.053,"g":"black"},{"kond":1.53,"alk":0.052,"g":"black"},{"kond":1.59,"alk":0.051,"g":"black"},{"kond":1.67,"alk":0.049,"g":"black"},{"kond":1.75,"alk":0.048,"g":"black"},{"kond":1.83,"alk":0.047,"g":"black"},{"kond":1.91,"alk":0.045,"g":"black"},{"kond":2.0,"alk":0.044,"g":"black"},{"kond":1.28,"alk":0.045,"g":"black"},{"kond":1.36,"alk":0.044,"g":"black"},{"kond":1.45,"alk":0.0432,"g":"black"},{"kond":1.52,"alk":0.041,"g":"black"},{"kond":1.59,"alk":0.0397,"g":"black"},{"kond":1.66,"alk":0.0383,"g":"black"},{"kond":1.73,"alk":0.0377,"g":"black"},{"kond":1.81,"alk":0.0364,"g":"black"},{"kond":1.89,"alk":0.0352,"g":"black"},{"kond":1.30,"alk":0.052,"g":"black"},{"kond":1.40,"alk":0.049,"g":"black"},{"kond":1.49,"alk":0.047,"g":"black"},{"kond":1.63,"alk":0.045,"g":"black"},{"kond":1.78,"alk":0.0432,"g":"black"},{"kond":1.94,"alk":0.041,"g":"black"},{"kond":2.07,"alk":0.0397,"g":"black"},{"kond":2.18,"alk":0.0383,"g":"black"},{"kond":2.32,"alk":0.0377,"g":"black"},{"kond":2.47,"alk":0.0364,"g":"black"},{"kond":2.60,"alk":0.0352,"g":"black"},{"kond":2.77,"alk":0.0345,"g":"black"},{"kond":2.95,"alk":0.0333,"g":"black"},{"kond":3.11,"alk":0.032,"g":"black"},{"kond":2.12,"alk":0.051,"g":"black"},{"kond":2.26,"alk":0.053,"g":"black"},{"kond":2.38,"alk":0.057,"g":"black"},{"kond":2.53,"alk":0.060,"g":"black"},{"kond":2.70,"alk":0.063,"g":"black"},{"kond":2.84,"alk":0.067,"g":"black"},{"kond":3.02,"alk":0.070,"g":"black"},{"kond":3.21,"alk":0.073,"g":"black"},{"kond":3.39,"alk":0.079,"g":"black"},{"kond":3.61,"alk":0.082,"g":"black"},{"kond":3.83,"alk":0.086,"g":"black"},{"kond":2.05,"alk":0.060,"g":"black"},{"kond":2.18,"alk":0.063,"g":"black"},{"kond":2.32,"alk":0.070,"g":"black"},{"kond":2.47,"alk":0.073,"g":"black"},{"kond":2.60,"alk":0.079,"g":"black"},{"kond":2.77,"alk":0.082,"g":"black"},{"kond":2.95,"alk":0.086,"g":"black"},{"kond":3.11,"alk":0.092,"g":"black"},{"kond":1.78,"alk":0.057,"g":"black"},{"kond":1.89,"alk":0.063,"g":"black"},{"kond":2.0,"alk":0.070,"g":"black"},{"kond":2.12,"alk":0.079,"g":"black"},{"kond":2.26,"alk":0.086,"g":"black"},{"kond":2.38,"alk":0.092,"g":"black"},{"kond":2.47,"alk":0.045,"g":"black"},{"kond":2.60,"alk":0.0432,"g":"black"},{"kond":2.77,"alk":0.041,"g":"black"},{"kond":2.95,"alk":0.0397,"g":"black"},{"kond":2.47,"alk":0.032,"g":"black"},{"kond":2.60,"alk":0.0315,"g":"black"},
{"kond":2.77,"alk":0.03,"g":"black"},{"kond":2.32,"alk":0.03,"g":"black"},{"kond":2.18,"alk":0.03,"g":"black"},{"kond":2.05,"alk":0.03,"g":"black"},{"kond":1.94,"alk":0.03,"g":"black"},{"kond":1.83,"alk":0.03,"g":"black"},{"kond":1.73,"alk":0.03,"g":"black"},{"kond":1.63,"alk":0.03,"g":"black"},{"kond":1.53,"alk":0.03,"g":"black"},{"kond":1.45,"alk":0.03,"g":"black"},{"kond":1.39,"alk":0.03,"g":"black"},{"kond":4.31,"alk":0.03,"g":"black"},{"kond":3.65,"alk":0.03,"g":"black"},
{"kond":4.62,"alk":0.058,"g":"black"},{"kond":4.31,"alk":0.049,"g":"black"},{"kond":4.05,"alk":0.049,"g":"black"},{"kond":4.19,"alk":0.057,"g":"black"},{"kond":3.21,"alk":0.060,"g":"black"},{"kond":3.39,"alk":0.053,"g":"black"},{"kond":3.61,"alk":0.045,"g":"black"},{"kond":3.51,"alk":0.041,"g":"black"},{"kond":3.21,"alk":0.0364,"g":"black"},{"kond":3.02,"alk":0.0268,"g":"black"},{"kond":3.11,"alk":0.024,"g":"black"},{"kond":3.21,"alk":0.0207,"g":"black"},{"kond":2.84,"alk":0.0207,"g":"black"},{"kond":2.70,"alk":0.0179,"g":"black"},{"kond":2.60,"alk":0.0168,"g":"black"},{"kond":2.47,"alk":0.0253,"g":"black"},{"kond":2.53,"alk":0.023,"g":"black"},{"kond":2.32,"alk":0.0253,"g":"black"},{"kond":2.26,"alk":0.0207,"g":"black"},{"kond":2.18,"alk":0.0187,"g":"black"},{"kond":2.05,"alk":0.024,"g":"black"},{"kond":2.0,"alk":0.0215,"g":"black"},{"kond":1.94,"alk":0.0263,"g":"black"},{"kond":1.83,"alk":0.0253,"g":"black"},{"kond":1.78,"alk":0.022,"g":"black"},{"kond":1.73,"alk":0.0263,"g":"black"},{"kond":1.63,"alk":0.0215,"g":"black"},{"kond":1.52,"alk":0.0245,"g":"black"},{"kond":1.45,"alk":0.0215,"g":"black"},{"kond":1.59,"alk":0.0294,"g":"black"},{"kond":1.40,"alk":0.0273,"g":"black"},{"kond":1.34,"alk":0.022,"g":"black"},{"kond":2.22,"alk":0.014,"g":"black"},{"kond":2.53,"alk":0.011,"g":"black"},{"kond":2.77,"alk":0.0121,"g":"black"},{"kond":2.32,"alk":0.011,"g":"black"},{"kond":2.12,"alk":0.0097,"g":"black"},{"kond":1.98,"alk":0.0097,"g":"black"},{"kond":1.86,"alk":0.0097,"g":"black"},{"kond":1.78,"alk":0.0097,"g":"black"},{"kond":3.30,"alk":0.0077,"g":"black"},{"kond":3.21,"alk":0.009,"g":"black"},{"kond":3.16,"alk":0.0068,"g":"black"},{"kond":2.70,"alk":0.0040,"g":"black"},{"kond":2.77,"alk":0.0044,"g":"black"},{"kond":2.65,"alk":0.0068,"g":"black"},{"kond":3.36,"alk":0.0168,"g":"black"},{"kond":2.95,"alk":0.023,"g":"black"},{"kond":3.08,"alk":0.0168,"g":"black"},{"kond":1.83,"alk":0.0062,"g":"black"},{"kond":1.30,"alk":0.0143,"g":"black"},{"kond":1.40,"alk":0.0097,"g":"black"},{"kond":1.06,"alk":0.040,"g":"black"},{"kond":1.40,"alk":0.020,"g":"black"},{"kond":1.52,"alk":0.0207,"g":"black"},{"kond":1.61,"alk":0.020,"g":"black"},{"kond":1.88,"alk":0.008,"g":"black"},{"kond":1.57,"alk":0.080,"g":"black"},
{"kond":2.07,"alk":0.129,"g":"black"},{"kond":1.98,"alk":0.108,"g":"black"},{"kond":1.56,"alk":0.080,"g":"black"},{"kond":1.06,"alk":0.0397,"g":"black"},{"kond":2.07,"alk":0.079,"g":"black"},{"kond":2.18,"alk":0.080,"g":"black"},{"kond":2.32,"alk":0.076,"g":"black"},{"kond":2.47,"alk":0.082,"g":"black"},{"kond":2.60,"alk":0.086,"g":"black"},{"kond":2.77,"alk":0.092,"g":"black"},{"kond":2.32,"alk":0.092,"g":"black"},{"kond":2.16,"alk":0.067,"g":"black"},{"kond":2.26,"alk":0.060,"g":"black"},{"kond":2.53,"alk":0.063,"g":"black"},{"kond":2.70,"alk":0.073,"g":"black"},
{"kond":1.23,"alk":0.051,"g":"black"},{"kond":1.27,"alk":0.0432,"g":"black"},{"kond":1.31,"alk":0.0486,"g":"black"},{"kond":1.35,"alk":0.0397,"g":"black"},{"kond":1.41,"alk":0.0462,"g":"black"},{"kond":1.48,"alk":0.0377,"g":"black"},{"kond":1.55,"alk":0.0502,"g":"black"},{"kond":1.57,"alk":0.0432,"g":"black"},{"kond":1.64,"alk":0.041,"g":"black"},{"kond":1.69,"alk":0.0462,"g":"black"},{"kond":1.76,"alk":0.0397,"g":"black"},{"kond":1.84,"alk":0.0502,"g":"black"},{"kond":1.88,"alk":0.0418,"g":"black"},{"kond":1.96,"alk":0.0478,"g":"black"},{"kond":2.03,"alk":0.0357,"g":"black"},{"kond":2.10,"alk":0.0432,"g":"black"},{"kond":2.20,"alk":0.0462,"g":"black"},{"kond":2.24,"alk":0.0352,"g":"black"},{"kond":2.36,"alk":0.0425,"g":"black"},{"kond":2.42,"alk":0.0486,"g":"black"},{"kond":2.51,"alk":0.039,"g":"black"},{"kond":2.58,"alk":0.053,"g":"black"},{"kond":2.67,"alk":0.0462,"g":"black"},{"kond":2.75,"alk":0.037,"g":"black"},{"kond":2.82,"alk":0.051,"g":"black"},{"kond":2.92,"alk":0.0439,"g":"black"},{"kond":2.99,"alk":0.0545,"g":"black"},{"kond":3.08,"alk":0.0462,"g":"black"},{"kond":3.19,"alk":0.041,"g":"black"},{"kond":3.27,"alk":0.0494,"g":"black"},{"kond":3.33,"alk":0.065,"g":"black"},{"kond":3.48,"alk":0.057,"g":"black"},{"kond":3.58,"alk":0.070,"g":"black"},{"kond":3.74,"alk":0.055,"g":"black"},{"kond":2.12,"alk":0.055,"g":"black"},{"kond":2.01,"alk":0.051,"g":"black"},{"kond":1.91,"alk":0.057,"g":"black"},{"kond":1.76,"alk":0.0538,"g":"black"},{"kond":1.67,"alk":0.062,"g":"black"},{"kond":1.49,"alk":0.060,"g":"black"},{"kond":1.42,"alk":0.065,"g":"black"},{"kond":1.57,"alk":0.070,"g":"black"},{"kond":2.22,"alk":0.072,"g":"black"},{"kond":2.36,"alk":0.064,"g":"black"},{"kond":2.49,"alk":0.055,"g":"black"},{"kond":2.65,"alk":0.058,"g":"black"},{"kond":2.79,"alk":0.072,"g":"black"},{"kond":2.97,"alk":0.0796,"g":"black"},{"kond":3.13,"alk":0.082,"g":"black"},{"kond":3.30,"alk":0.086,"g":"black"},{"kond":2.58,"alk":0.070,"g":"black"},{"kond":2.05,"alk":0.0315,"g":"black"},{"kond":2.14,"alk":0.0333,"g":"black"},{"kond":2.28,"alk":0.0339,"g":"black"},{"kond":2.40,"alk":0.0273,"g":"black"},{"kond":2.49,"alk":0.0288,"g":"black"},{"kond":2.67,"alk":0.0278,"g":"black"},{"kond":2.87,"alk":0.0258,"g":"black"},{"kond":3.00,"alk":0.0294,"g":"black"},{"kond":3.16,"alk":0.0278,"g":"black"},{"kond":3.36,"alk":0.0253,"g":"black"},{"kond":3.48,"alk":0.0327,"g":"black"},{"kond":3.64,"alk":0.0364,"g":"black"},{"kond":1.64,"alk":0.0333,"g":"black"},{"kond":1.72,"alk":0.0345,"g":"black"},{"kond":1.80,"alk":0.0321,"g":"black"},{"kond":1.88,"alk":0.0278,"g":"black"},{"kond":2.0,"alk":0.0268,"g":"black"},{"kond":1.46,"alk":0.0333,"g":"black"},{"kond":1.53,"alk":0.0273,"g":"black"},{"kond":1.34,"alk":0.0352,"g":"black"},{"kond":1.26,"alk":0.0397,"g":"black"},{"kond":1.33,"alk":0.0315,"g":"black"},{"kond":1.20,"alk":0.0446,"g":"black"},{"kond":1.92,"alk":0.0207,"g":"black"},{"kond":2.05,"alk":0.0187,"g":"black"},{"kond":2.34,"alk":0.0175,"g":"black"},{"kond":2.49,"alk":0.0199,"g":"black"},{"kond":2.77,"alk":0.0168,"g":"black"},{"kond":2.95,"alk":0.0183,"g":"black"},{"kond":3.11,"alk":0.0146,"g":"black"},{"kond":2.63,"alk":0.0143,"g":"black"},{"kond":2.44,"alk":0.0133,"g":"black"},{"kond":2.18,"alk":0.0124,"g":"black"},{"kond":2.03,"alk":0.015,"g":"black"},{"kond":1.72,"alk":0.0168,"g":"black"},{"kond":1.56,"alk":0.0183,"g":"black"},{"kond":1.48,"alk":0.016,"g":"black"},
{"kond":1.73,"alk":0,"g":"black"},{"kond":1.91,"alk":0,"g":"black"},{"kond":1.94,"alk":0,"g":"black"},{"kond":2.12,"alk":0,"g":"black"},{"kond":2.28,"alk":0,"g":"black"},{"kond":2.32,"alk":0,"g":"black"},{"kond":2.49,"alk":0,"g":"black"},{"kond":2.53,"alk":0,"g":"black"},{"kond":2.72,"alk":0,"g":"black"},{"kond":2.97,"alk":0,"g":"black"},{"kond":3.02,"alk":0,"g":"black"},{"kond":3.24,"alk":0,"g":"black"},{"kond":3.36,"alk":0,"g":"black"},{"kond":3.51,"alk":0,"g":"black"},{"kond":3.61,"alk":0,"g":"black"},{"kond":3.83,"alk":0,"g":"black"},{"kond":4.01,"alk":0,"g":"black"},
{"kond":3.39,"alk":0.0172,"g":"black"},{"kond":3.24,"alk":0.0087,"g":"black"},{"kond":3.33,"alk":0.0068,"g":"black"},{"kond":2.75,"alk":0.0044,"g":"black"},{"kond":2.72,"alk":0.0070,"g":"black"},{"kond":2.22,"alk":0.0097,"g":"black"},{"kond":2.60,"alk":0.0097,"g":"black"},{"kond":1.94,"alk":0.108,"g":"black"},{"kond":1.81,"alk":0.086,"g":"black"},{"kond":1.59,"alk":0.080,"g":"black"},{"kond":4.42,"alk":0.076,"g":"black"},{"kond":4.12,"alk":0.086,"g":"black"},{"kond":3.24,"alk":0.135,"g":"black"},{"kond":2.97,"alk":0.111,"g":"black"},{"kond":3.11,"alk":0.100,"g":"black"},
{"kond":23.2,"alk":1.99,"g":"blue"},{"kond":27.4,"alk":1.88,"g":"blue"},{"kond":29.7,"alk":1.88,"g":"blue"},{"kond":25.5,"alk":1.71,"g":"blue"},{"kond":18.4,"alk":1.53,"g":"blue"},{"kond":19.6,"alk":1.51,"g":"blue"},{"kond":20.0,"alk":1.53,"g":"blue"},{"kond":20.7,"alk":1.57,"g":"blue"},{"kond":21.0,"alk":1.57,"g":"blue"},{"kond":21.8,"alk":1.59,"g":"blue"},{"kond":22.6,"alk":1.57,"g":"blue"},{"kond":23.2,"alk":1.64,"g":"blue"},{"kond":23.8,"alk":1.69,"g":"blue"},{"kond":23.6,"alk":1.55,"g":"blue"},{"kond":23.0,"alk":1.49,"g":"blue"},{"kond":21.8,"alk":1.49,"g":"blue"},{"kond":21.2,"alk":1.45,"g":"blue"},{"kond":21.6,"alk":1.39,"g":"blue"},{"kond":22.2,"alk":1.35,"g":"blue"},{"kond":23.2,"alk":1.39,"g":"blue"},{"kond":23.8,"alk":1.41,"g":"blue"},{"kond":24.6,"alk":1.39,"g":"blue"},{"kond":25.1,"alk":1.43,"g":"blue"},{"kond":17.6,"alk":1.43,"g":"blue"},{"kond":18.1,"alk":1.33,"g":"blue"},{"kond":18.9,"alk":1.30,"g":"blue"},{"kond":19.8,"alk":1.30,"g":"blue"},{"kond":20.1,"alk":1.32,"g":"blue"},{"kond":29.9,"alk":1.41,"g":"blue"},{"kond":27.0,"alk":1.30,"g":"blue"},{"kond":28.2,"alk":1.24,"g":"blue"},{"kond":28.4,"alk":1.21,"g":"blue"},{"kond":27.7,"alk":1.19,"g":"blue"},{"kond":26.5,"alk":1.16,"g":"blue"},{"kond":27.0,"alk":1.13,"g":"blue"},{"kond":26.0,"alk":1.15,"g":"blue"},{"kond":24.8,"alk":1.21,"g":"blue"},{"kond":23.8,"alk":1.24,"g":"blue"},{"kond":23.8,"alk":1.19,"g":"blue"},{"kond":23.2,"alk":1.21,"g":"blue"},{"kond":32.1,"alk":1.19,"g":"blue"},{"kond":29.9,"alk":1.10,"g":"blue"},{"kond":25.8,"alk":0.997,"g":"blue"},{"kond":27.0,"alk":0.997,"g":"blue"},{"kond":23.8,"alk":1.10,"g":"blue"},{"kond":23.8,"alk":1.04,"g":"blue"},{"kond":21.8,"alk":1.02,"g":"blue"},{"kond":21.0,"alk":0.98,"g":"blue"},{"kond":20.8,"alk":0.943,"g":"blue"},{"kond":22.4,"alk":0.905,"g":"blue"},{"kond":23.4,"alk":0.956,"g":"blue"},
{"kond":14.5,"alk":1.23,"g":"blue"},{"kond":15.2,"alk":1.30,"g":"blue"},{"kond":16.2,"alk":1.23,"g":"blue"},{"kond":17.3,"alk":1.19,"g":"blue"},{"kond":17.6,"alk":1.21,"g":"blue"},{"kond":18.1,"alk":1.19,"g":"blue"},{"kond":17.8,"alk":1.13,"g":"blue"},{"kond":18.3,"alk":1.10,"g":"blue"},{"kond":18.8,"alk":1.10,"g":"blue"},{"kond":16.3,"alk":1.07,"g":"blue"},{"kond":11.8,"alk":1.30,"g":"blue"},{"kond":12.9,"alk":0.997,"g":"blue"},{"kond":12.0,"alk":0.832,"g":"blue"},{"kond":18.6,"alk":0.905,"g":"blue"},{"kond":18.1,"alk":0.832,"g":"blue"},{"kond":18.9,"alk":0.832,"g":"blue"},{"kond":20.3,"alk":0.855,"g":"blue"},{"kond":20.7,"alk":0.905,"g":"blue"},{"kond":19.8,"alk":0.756,"g":"blue"},{"kond":20.0,"alk":0.735,"g":"blue"},{"kond":18.3,"alk":0.714,"g":"blue"},{"kond":19.1,"alk":0.695,"g":"blue"},{"kond":18.3,"alk":0.676,"g":"blue"},{"kond":19.2,"alk":0.64,"g":"blue"},{"kond":21.0,"alk":0.676,"g":"blue"},{"kond":22.0,"alk":0.704,"g":"blue"},{"kond":23.2,"alk":0.80,"g":"blue"},{"kond":23.6,"alk":0.766,"g":"blue"},{"kond":14.9,"alk":0.821,"g":"blue"},{"kond":15.3,"alk":0.81,"g":"blue"},{"kond":15.9,"alk":0.821,"g":"blue"},{"kond":15.6,"alk":0.788,"g":"blue"},{"kond":15.2,"alk":0.756,"g":"blue"},{"kond":14.6,"alk":0.735,"g":"blue"},{"kond":14.5,"alk":0.714,"g":"blue"},{"kond":13.8,"alk":0.704,"g":"blue"},{"kond":16.9,"alk":0.777,"g":"blue"},{"kond":16.7,"alk":0.714,"g":"blue"},{"kond":15.6,"alk":0.745,"g":"blue"},{"kond":13.7,"alk":0.766,"g":"blue"},{"kond":12.7,"alk":0.695,"g":"blue"},{"kond":12.9,"alk":0.666,"g":"blue"},{"kond":12.0,"alk":0.685,"g":"blue"},{"kond":11.9,"alk":0.63,"g":"blue"},{"kond":13.4,"alk":0.562,"g":"blue"},{"kond":17.3,"alk":0.518,"g":"blue"},{"kond":19.1,"alk":0.525,"g":"blue"},{"kond":19.2,"alk":0.504,"g":"blue"},{"kond":13.4,"alk":0.476,"g":"blue"},{"kond":14.0,"alk":0.444,"g":"blue"},{"kond":15.6,"alk":0.432,"g":"blue"},{"kond":15.9,"alk":0.444,"g":"blue"},{"kond":17.3,"alk":0.438,"g":"blue"},{"kond":20.8,"alk":0.408,"g":"blue"},{"kond":22.4,"alk":0.426,"g":"blue"},{"kond":22.0,"alk":0.444,"g":"blue"},{"kond":22.8,"alk":0.483,"g":"blue"},{"kond":23.6,"alk":0.451,"g":"blue"},{"kond":28.2,"alk":0.457,"g":"blue"},{"kond":20.0,"alk":0.330,"g":"blue"},{"kond":15.7,"alk":0.291,"g":"blue"},{"kond":16.6,"alk":0.283,"g":"blue"},{"kond":33.3,"alk":0.171,"g":"blue"},
{"kond":10.45,"alk":0.821,"g":"blue"},{"kond":10.3,"alk":0.832,"g":"blue"},{"kond":10.3,"alk":0.766,"g":"blue"},{"kond":9.56,"alk":0.745,"g":"blue"},{"kond":9.8,"alk":0.756,"g":"blue"},{"kond":9.4,"alk":0.745,"g":"blue"},{"kond":9.14,"alk":0.685,"g":"blue"},{"kond":8.9,"alk":0.666,"g":"blue"},{"kond":8.6,"alk":0.648,"g":"blue"},{"kond":8.37,"alk":0.648,"g":"blue"},{"kond":8.3,"alk":0.666,"g":"blue"},{"kond":8.5,"alk":0.714,"g":"blue"},{"kond":9.0,"alk":0.714,"g":"blue"},{"kond":9.7,"alk":0.540,"g":"blue"},{"kond":10.0,"alk":0.476,"g":"blue"},{"kond":9.8,"alk":0.444,"g":"blue"},{"kond":8.0,"alk":0.463,"g":"blue"},{"kond":7.5,"alk":0.714,"g":"blue"},{"kond":6.77,"alk":0.714,"g":"blue"},{"kond":6.36,"alk":0.587,"g":"blue"},{"kond":7.9,"alk":0.64,"g":"blue"},{"kond":7.4,"alk":0.525,"g":"blue"},{"kond":6.83,"alk":0.364,"g":"blue"},{"kond":7.6,"alk":0.359,"g":"blue"},{"kond":7.94,"alk":0.354,"g":"blue"},{"kond":8.2,"alk":0.344,"g":"blue"},{"kond":8.3,"alk":0.330,"g":"blue"},{"kond":8.2,"alk":0.37,"g":"blue"},{"kond":6.3,"alk":0.457,"g":"blue"},{"kond":6.36,"alk":0.451,"g":"blue"},{"kond":6.14,"alk":0.444,"g":"blue"},{"kond":6.54,"alk":0.49,"g":"blue"},{"kond":6.6,"alk":0.476,"g":"blue"},{"kond":6.71,"alk":0.483,"g":"blue"},{"kond":6.89,"alk":0.476,"g":"blue"},{"kond":7.01,"alk":0.504,"g":"blue"},{"kond":6.83,"alk":0.518,"g":"blue"},{"kond":6.77,"alk":0.49,"g":"blue"},{"kond":5.97,"alk":0.37,"g":"blue"},{"kond":5.73,"alk":0.39,"g":"blue"},{"kond":5.62,"alk":0.37,"g":"blue"},{"kond":5.28,"alk":0.354,"g":"blue"},{"kond":5.38,"alk":0.37,"g":"blue"},{"kond":5.47,"alk":0.321,"g":"blue"},{"kond":5.24,"alk":0.321,"g":"blue"},{"kond":6.2,"alk":0.238,"g":"blue"},{"kond":5.62,"alk":0.200,"g":"blue"},{"kond":5.72,"alk":0.189,"g":"blue"},{"kond":5.52,"alk":0.173,"g":"blue"},{"kond":5.62,"alk":0.181,"g":"blue"},{"kond":5.38,"alk":0.168,"g":"blue"},{"kond":8.0,"alk":0.189,"g":"blue"},{"kond":8.2,"alk":0.191,"g":"blue"},{"kond":8.8,"alk":0.221,"g":"blue"},{"kond":9.14,"alk":0.215,"g":"blue"},{"kond":7.6,"alk":0.181,"g":"blue"},{"kond":5.77,"alk":0.191,"g":"blue"},{"kond":5.92,"alk":0.176,"g":"blue"},
{"kond":4.2,"alk":0.563,"g":"blue"},{"kond":6.5,"alk":0.621,"g":"blue"},{"kond":6.6,"alk":0.648,"g":"blue"},{"kond":5.05,"alk":0.457,"g":"blue"},{"kond":6.25,"alk":0.451,"g":"blue"},{"kond":6.3,"alk":0.426,"g":"blue"},{"kond":6.54,"alk":0.438,"g":"blue"},{"kond":5.73,"alk":0.397,"g":"blue"},{"kond":5.97,"alk":0.380,"g":"blue"},{"kond":5.67,"alk":0.37,"g":"blue"},{"kond":5.28,"alk":0.37,"g":"blue"},{"kond":5.24,"alk":0.344,"g":"blue"},{"kond":5.38,"alk":0.354,"g":"blue"},{"kond":5.47,"alk":0.330,"g":"blue"},{"kond":4.19,"alk":0.39,"g":"blue"},{"kond":4.31,"alk":0.339,"g":"blue"},{"kond":4.42,"alk":0.321,"g":"blue"},{"kond":4.58,"alk":0.330,"g":"blue"},{"kond":4.71,"alk":0.308,"g":"blue"},{"kond":4.38,"alk":0.308,"g":"blue"},{"kond":4.31,"alk":0.287,"g":"blue"},{"kond":4.12,"alk":0.279,"g":"blue"},{"kond":4.01,"alk":0.267,"g":"blue"},{"kond":4.19,"alk":0.267,"g":"blue"},{"kond":4.31,"alk":0.259,"g":"blue"},{"kond":3.83,"alk":0.321,"g":"blue"},{"kond":3.94,"alk":0.312,"g":"blue"},{"kond":3.7,"alk":0.300,"g":"blue"},{"kond":3.51,"alk":0.312,"g":"blue"},{"kond":3.61,"alk":0.271,"g":"blue"},{"kond":3.67,"alk":0.255,"g":"blue"},{"kond":4.71,"alk":0.267,"g":"blue"},{"kond":4.84,"alk":0.248,"g":"blue"},{"kond":4.42,"alk":0.231,"g":"blue"},{"kond":4.31,"alk":0.209,"g":"blue"},{"kond":4.19,"alk":0.200,"g":"blue"},{"kond":3.94,"alk":0.191,"g":"blue"},{"kond":3.7,"alk":0.178,"g":"blue"},{"kond":3.51,"alk":0.163,"g":"blue"},{"kond":2.42,"alk":0.231,"g":"blue"},{"kond":1.92,"alk":0.191,"g":"blue"},{"kond":5.62,"alk":0.191,"g":"blue"},{"kond":5.77,"alk":0.181,"g":"blue"},{"kond":5.67,"alk":0.173,"g":"blue"},{"kond":6.25,"alk":0.238,"g":"blue"},{"kond":4.12,"alk":0.188,"g":"blue"},{"kond":4.31,"alk":0.186,"g":"blue"},
{"kond":3.67,"alk":0.181,"g":"blue"},{"kond":3.7,"alk":0.168,"g":"blue"},{"kond":3.83,"alk":0.200,"g":"blue"},{"kond":4.05,"alk":0.194,"g":"blue"},{"kond":4.42,"alk":0.173,"g":"blue"},{"kond":4.71,"alk":0.178,"g":"blue"},{"kond":4.92,"alk":0.181,"g":"blue"},{"kond":5.28,"alk":0.173,"g":"blue"},{"kond":3.21,"alk":0.120,"g":"blue"},{"kond":4.71,"alk":0.135,"g":"blue"},{"kond":3.45,"alk":0.181,"g":"blue"},{"kond":3.61,"alk":0.166,"g":"blue"},{"kond":3.51,"alk":0.161,"g":"blue"},{"kond":4.05,"alk":0.191,"g":"blue"},{"kond":3.94,"alk":0.178,"g":"blue"},{"kond":4.58,"alk":0.186,"g":"blue"},{"kond":4.5,"alk":0.168,"g":"blue"},{"kond":4.84,"alk":0.181,"g":"blue"},{"kond":7.33,"alk":0.166,"g":"blue"},{"kond":7.5,"alk":0.161,"g":"blue"},{"kond":5.52,"alk":0.161,"g":"blue"},{"kond":3.24,"alk":0.124,"g":"blue"},{"kond":3.30,"alk":0.092,"g":"blue"},{"kond":3.39,"alk":0.120,"g":"blue"},{"kond":1.92,"alk":0.060,"g":"blue"},{"kond":3.27,"alk":0.093,"g":"blue"},{"kond":2.95,"alk":0.125,"g":"blue"},
{"kond":3.55,"alk":0.267,"g":"blue"},{"kond":3.74,"alk":0.283,"g":"blue"},{"kond":3.87,"alk":0.300,"g":"blue"},{"kond":4.05,"alk":0.317,"g":"blue"},{"kond":4.23,"alk":0.339,"g":"blue"},{"kond":4.38,"alk":0.354,"g":"blue"},{"kond":4.54,"alk":0.380,"g":"blue"},{"kond":4.75,"alk":0.408,"g":"blue"},{"kond":4.92,"alk":0.420,"g":"blue"},{"kond":5.10,"alk":0.438,"g":"blue"},{"kond":5.33,"alk":0.470,"g":"blue"},{"kond":5.57,"alk":0.497,"g":"blue"},{"kond":5.82,"alk":0.525,"g":"blue"},{"kond":6.03,"alk":0.548,"g":"blue"},{"kond":6.25,"alk":0.555,"g":"blue"},{"kond":6.6,"alk":0.587,"g":"blue"},{"kond":6.89,"alk":0.639,"g":"blue"},{"kond":7.2,"alk":0.666,"g":"blue"},{"kond":7.46,"alk":0.695,"g":"blue"},{"kond":7.87,"alk":0.735,"g":"blue"},{"kond":8.23,"alk":0.766,"g":"blue"},{"kond":8.6,"alk":0.788,"g":"blue"},{"kond":8.98,"alk":0.821,"g":"blue"},{"kond":9.56,"alk":0.855,"g":"blue"},{"kond":10.1,"alk":0.867,"g":"blue"},{"kond":4.50,"alk":0.248,"g":"blue"},{"kond":4.71,"alk":0.224,"g":"blue"},{"kond":4.96,"alk":0.215,"g":"blue"},{"kond":5.14,"alk":0.206,"g":"blue"},{"kond":5.38,"alk":0.231,"g":"blue"},{"kond":5.52,"alk":0.215,"g":"blue"},{"kond":5.87,"alk":0.209,"g":"blue"},{"kond":3.94,"alk":0.215,"g":"blue"},{"kond":3.80,"alk":0.191,"g":"blue"},{"kond":3.61,"alk":0.173,"g":"blue"},{"kond":3.42,"alk":0.150,"g":"blue"},{"kond":3.16,"alk":0.139,"g":"blue"},{"kond":5.10,"alk":0.150,"g":"blue"},{"kond":4.84,"alk":0.159,"g":"blue"},{"kond":5.33,"alk":0.181,"g":"blue"},{"kond":6.03,"alk":0.191,"g":"blue"},{"kond":7.2,"alk":0.168,"g":"blue"},{"kond":6.71,"alk":0.161,"g":"blue"},{"kond":6.48,"alk":0.173,"g":"blue"},{"kond":3.61,"alk":0.231,"g":"blue"},{"kond":3.45,"alk":0.212,"g":"blue"},{"kond":3.30,"alk":0.191,"g":"blue"},{"kond":3.90,"alk":0.354,"g":"blue"},{"kond":4.16,"alk":0.42,"g":"blue"},{"kond":5.14,"alk":0.380,"g":"blue"},{"kond":5.42,"alk":0.408,"g":"blue"}
]},
"mark": {"type": "circle", "size": 28, "opacity": 1},
"encoding": {
"x": {"field": "kond", "type": "quantitative",
"scale": {"type": "log", "domain": [0.538, 36.1], "nice": false},
"axis": {"title": "Konduktivitet (mS/m)", "values": [1, 2, 5, 10, 20], "format": "~g",
"grid": true, "gridColor": "#b4b4b4", "gridDash": [1, 2], "gridWidth": 1,
"domainColor": "#444444", "tickColor": "#444444", "tickSize": 8, "tickWidth": 1,
"labelFont": "Liberation Sans", "labelFontSize": 21, "labelColor": "#000000", "labelPadding": 7, "labelFlush": false, "labelOverlap": false,
"titleFont": "Liberation Sans", "titleFontSize": 22, "titleFontWeight": "normal", "titleColor": "#000000", "titleBaseline": "alphabetic", "titleX": 241, "titleY": 67, "titleAlign": "center"}},
"y": {"field": "alk", "type": "quantitative",
"scale": {"type": "symlog", "constant": 0.01, "domain": [-0.0025, 2.773], "nice": false, "zero": false},
"axis": {"title": "Alkalitet (mmol/l)", "values": [0, 0.01, 0.03, 0.1, 0.3, 1], "format": "~g",
"grid": true, "gridColor": "#b4b4b4", "gridDash": [1, 2], "gridWidth": 1,
"domainColor": "#444444", "tickColor": "#444444", "tickSize": 8, "tickWidth": 1,
"labelFont": "Liberation Sans", "labelFontSize": 21, "labelColor": "#000000", "labelPadding": 12, "labelFlush": false, "labelOverlap": false,
"titleFont": "Liberation Sans", "titleFontSize": 22, "titleFontWeight": "normal", "titleColor": "#000000", "titleAngle": -90, "titleBaseline": "alphabetic", "titleX": -52, "titleY": 206.5, "titleAlign": "center"}},
"color": {"field": "g", "type": "nominal", "legend": null,
"scale": {"domain": ["orange", "red", "green", "black", "blue"], "range": ["#ffa500", "#ff0000", "#008b00", "#000000", "#3535ff"]}}
}
},
{
"data": {"values": [{}]},
"mark": {"type": "rule", "color": "#444444", "strokeWidth": 1},
"encoding": {"y": {"datum": 2.773, "type": "quantitative"}}
}
]
}
